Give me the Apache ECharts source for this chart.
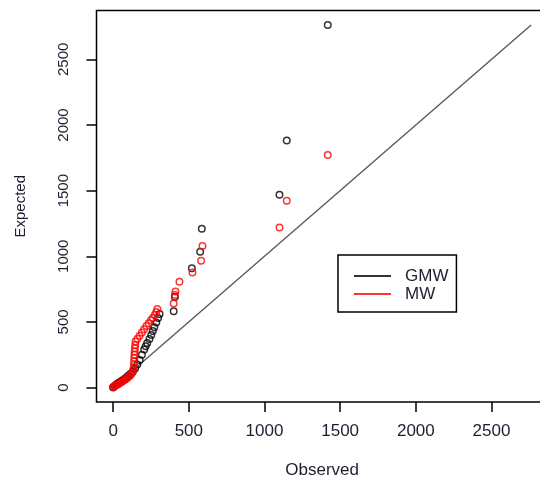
<!DOCTYPE html>
<html>
<head>
<meta charset="utf-8">
<script src="https://cdn.jsdelivr.net/npm/echarts@6/dist/echarts.min.js"></script>
<style>
  html, body { margin: 0; padding: 0; background: #fff; }
  #chart { width: 540px; height: 480px; }
</style>
</head>
<body>
<div id="chart"></div>
<script>
// GMW (black circles)
const gmwObserved = [0, 10, 20, 30, 40, 55, 70, 85, 100, 115, 130, 145, 160, 175, 190, 205, 215, 225, 240, 252, 262, 272, 285, 297, 307, 400, 408, 520, 575, 586, 1099, 1147, 1418];
const gmwExpected = [0, 12, 22, 30, 38, 50, 62, 75, 90, 105, 122, 145, 175, 210, 250, 290, 315, 340, 370, 400, 430, 460, 495, 530, 560, 582, 690, 909, 1034, 1209, 1468, 1881, 2762];
// MW (red circles)
const mwObserved = [0, 8, 15, 25, 35, 45, 55, 65, 75, 85, 95, 105, 115, 125, 132, 136, 138, 139, 140, 141, 142, 144, 146, 148, 160, 175, 190, 205, 220, 235, 250, 262, 275, 285, 292, 400, 408, 412, 438, 524, 581, 590, 1099, 1147, 1418];
const mwExpected = [5, 10, 16, 22, 28, 35, 42, 50, 57, 65, 74, 84, 96, 110, 128, 150, 175, 200, 225, 250, 275, 300, 325, 350, 372, 395, 420, 445, 468, 490, 512, 530, 552, 575, 598, 640, 705, 732, 805, 876, 966, 1079, 1219, 1422, 1772];
// reference line y = x
const refLine = [0, 2762];
const xTicks = [0, 500, 1000, 1500, 2000, 2500];
const yTicks = [0, 500, 1000, 1500, 2000, 2500];

const zip = (a, b) => a.map((v, i) => [v, b[i]]);
const font = "'Liberation Sans', Arial, sans-serif";
const txtColor = "#1e1e30";

const chart = echarts.init(document.getElementById("chart"));
const option = {
  backgroundColor: "#fff",
  animation: false,
  textStyle: { fontFamily: font },
  grid: {
    left: 96.5,
    top: 10.5,
    width: 451.3,
    height: 391.5,
    show: true,
    borderColor: "#000",
    borderWidth: 1.5,
    outerBoundsMode: "none",
  },
  legend: {
    orient: "vertical",
    left: 338,
    top: 255,
    padding: [12, 8, 9, 16],
    itemWidth: 37,
    itemHeight: 2,
    itemGap: 0,
    borderColor: "#000",
    borderWidth: 1.5,
    icon: "rect",
    textStyle: {
      fontSize: 17,
      lineHeight: 18,
      color: txtColor,
      fontFamily: font,
      padding: [0, 0, 0, 9],
    },
    data: [
      { name: "GMW", itemStyle: { color: "#000", borderWidth: 0 } },
      { name: "MW", itemStyle: { color: "#ff0000", borderWidth: 0 } },
    ],
  },
  xAxis: {
    type: "value",
    min: -110,
    max: 2872,
    name: "Observed",
    nameLocation: "middle",
    nameGap: 60,
    nameTextStyle: { fontSize: 17, color: txtColor, fontFamily: font },
    splitLine: { show: false },
    axisLine: { show: false, onZero: false },
    axisTick: {
      show: true,
      length: 10,
      customValues: xTicks,
      lineStyle: { color: "#000", width: 1.5 },
    },
    axisLabel: {
      customValues: xTicks,
      formatter: (v) => String(v),
      margin: 21,
      fontSize: 17,
      color: txtColor,
      fontFamily: font,
    },
  },
  yAxis: {
    type: "value",
    min: -110,
    max: 2872,
    name: "Expected",
    nameLocation: "middle",
    nameGap: 68,
    nameTextStyle: { fontSize: 15, color: txtColor, fontFamily: font },
    splitLine: { show: false },
    axisLine: { show: false, onZero: false },
    axisTick: {
      show: true,
      length: 10,
      customValues: yTicks,
      lineStyle: { color: "#000", width: 1.5 },
    },
    axisLabel: {
      customValues: yTicks,
      formatter: (v) => String(v),
      rotate: 90,
      margin: 25,
      fontSize: 15,
      color: txtColor,
      fontFamily: font,
    },
  },
  series: [
    {
      type: "line",
      data: [[refLine[0], refLine[0]], [refLine[1], refLine[1]]],
      symbol: "none",
      silent: true,
      lineStyle: { color: "#555", width: 1.3 },
      z: 1,
    },
    {
      name: "GMW",
      type: "scatter",
      data: zip(gmwObserved, gmwExpected),
      symbol: "circle",
      symbolSize: 6.5,
      itemStyle: { color: "rgba(0,0,0,0)", borderColor: "#000", borderWidth: 1.5 },
      z: 2,
    },
    {
      name: "MW",
      type: "scatter",
      data: zip(mwObserved, mwExpected),
      symbol: "circle",
      symbolSize: 6.5,
      itemStyle: { color: "rgba(0,0,0,0)", borderColor: "#ff0000", borderWidth: 1.5 },
      z: 3,
    },
  ],
};
chart.setOption(option);
</script>
</body>
</html>
